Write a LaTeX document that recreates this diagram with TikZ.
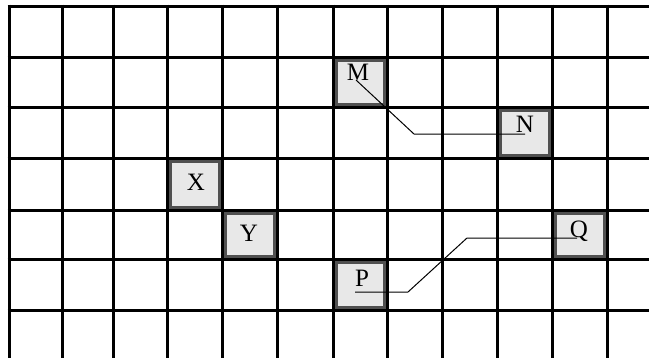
\documentclass[tikz,border=0pt]{standalone}
\usepackage{fontspec}
\setmainfont{Liberation Serif}
\usetikzlibrary{calc}
\definecolor{cellfill}{HTML}{E8E8E8}
\definecolor{cellborder}{HTML}{505050}
\begin{document}
\begin{tikzpicture}[x=1pt,y=-1pt,
  gridline/.style={line width=3pt,black},
  markbox/.style={fill=cellfill,draw=cellborder,line width=3pt},
  lab/.style={anchor=base,inner sep=0pt,font=\fontsize{25}{30}\selectfont},
  conn/.style={line width=1pt,black}]
\useasboundingbox (0,0) rectangle (649,357);
\clip (0,0) rectangle (649,357);
% grid
\foreach \x in {9,62,113,167,222,277,333,387,442,497,552,607}
  \draw[gridline] (\x,4.5) -- (\x,360);
\foreach \y in {6,57,107,158,210,259,310}
  \draw[gridline] (7.5,\y) -- (652,\y);
% boxes (cell interiors)
\draw[markbox] (336,60) rectangle (384,104);
\draw[markbox] (500,110) rectangle (549,155);
\draw[markbox] (170,161) rectangle (219,207);
\draw[markbox] (225,213) rectangle (274,256);
\draw[markbox] (336,262) rectangle (384,307);
\draw[markbox] (555,213) rectangle (604,256);
% labels
\node[lab] (Ml) at (358,80) {M};
\node[lab] (Nl) at (525,132) {N};
\node[lab] (Xl) at (196,190) {X};
\node[lab] (Yl) at (249,241) {Y};
\node[lab] (Pl) at (362,286) {P};
\node[lab] (Ql) at (579,237) {Q};
% connectors
\draw[conn] ($(Ml.base)+(-2,0)$) -- ++(58,54) -- ($(Nl.base)+(0,2)$);
\draw[conn] ($(Pl.base)+(-7,6)$) -- ++(53,0) -- ++(59,-54) -- ($(Ql.base)+(-2,1)$);
\end{tikzpicture}
\end{document}
